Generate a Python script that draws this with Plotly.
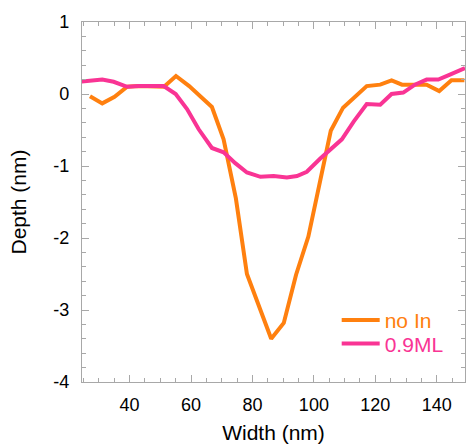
import plotly.graph_objects as go

# ---- data ----
no_in_x = [27.1, 31.1, 35.1, 39.2, 43.0, 47.0, 51.2, 55.1, 59.4, 63.0, 66.8, 70.6,
           74.6, 78.2, 82.2, 86.1, 90.2, 94.2, 98.2, 102.0, 105.5, 109.5, 113.3,
           117.2, 121.6, 125.3, 128.7, 132.9, 136.7, 140.8, 144.8, 149.0]
no_in_y = [-0.03, -0.13, -0.04, 0.10, 0.11, 0.11, 0.10, 0.25, 0.11, -0.03, -0.18, -0.63,
           -1.45, -2.50, -2.97, -3.40, -3.18, -2.51, -1.98, -1.18, -0.51, -0.19, -0.04,
           0.11, 0.13, 0.19, 0.13, 0.13, 0.13, 0.04, 0.19, 0.19]

ml_x = [23.5, 27.1, 31.1, 34.8, 39.2, 43.0, 47.0, 51.1, 55.0, 58.7, 62.5, 66.8, 70.6,
        74.4, 78.2, 82.6, 86.9, 91.2, 94.5, 97.7, 102.0, 105.3, 109.1, 113.0,
        117.2, 121.6, 125.3, 129.1, 132.9, 136.7, 140.5, 144.3, 149.2]
ml_y = [0.17, 0.19, 0.20, 0.17, 0.10, 0.11, 0.11, 0.11, 0.00, -0.21, -0.49, -0.75, -0.81,
        -0.96, -1.09, -1.15, -1.14, -1.16, -1.14, -1.08, -0.90, -0.77, -0.63, -0.38,
        -0.14, -0.15, 0.00, 0.02, 0.13, 0.20, 0.20, 0.27, 0.36]

x_ticks = [40, 60, 80, 100, 120, 140]
x_ticktext = ["40", "60", "80", "100", "120", "140"]
y_ticks = [1, 0, -1, -2, -3, -4]
y_ticktext = ["1", "0", "-1", "-2", "-3", "-4"]

ORANGE = "#FF800F"
PINK = "#F93494"
AXIS = "#A8A8A8"
FONT = "Liberation Sans, Arial, sans-serif"

fig = go.Figure()
fig.add_trace(go.Scatter(x=no_in_x, y=no_in_y, mode="lines",
                         line=dict(color=ORANGE, width=4),
                         name=f"<span style='color:{ORANGE}'>no In</span>",
                         legend="legend"))
fig.add_trace(go.Scatter(x=ml_x, y=ml_y, mode="lines",
                         line=dict(color=PINK, width=4),
                         name=f"<span style='color:{PINK}'>0.9ML</span>",
                         legend="legend2"))

axis_common = dict(
    showline=True, linecolor=AXIS, linewidth=1.2, mirror="allticks",
    ticks="inside", ticklen=7, tickcolor=AXIS, tickwidth=1.2,
    showgrid=False, zeroline=False, automargin=False,
    tickfont=dict(family=FONT, size=18, color="black"),
    title_font=dict(family=FONT, size=21, color="black"),
    tickmode="array",
)

fig.update_xaxes(**axis_common, range=[24.5, 149.2], tickvals=x_ticks, ticktext=x_ticktext,
                 minor=dict(dtick=5, tick0=0, ticks="inside", ticklen=4, tickcolor=AXIS, tickwidth=1.2),
                 title_text="Width (nm)", title_standoff=18, ticklabelstandoff=6)
fig.update_yaxes(**axis_common, range=[-4, 1], tickvals=y_ticks, ticktext=y_ticktext,
                 minor=dict(dtick=0.2, tick0=0, ticks="inside", ticklen=4, tickcolor=AXIS, tickwidth=1.2),
                 title_text="Depth (nm)", title_standoff=20, ticklabelstandoff=8)

legend_style = dict(xanchor="left", yanchor="top", bgcolor="rgba(0,0,0,0)",
                    font=dict(family=FONT, size=21), tracegroupgap=0, itemwidth=38)

fig.update_layout(
    width=466, height=444,
    margin=dict(l=82, r=1, t=22, b=62),
    plot_bgcolor="white", paper_bgcolor="white",
    font=dict(family=FONT, size=18, color="black"),
    legend=dict(x=0.665, y=0.228, **legend_style),
    legend2=dict(x=0.665, y=0.163, **legend_style),
    showlegend=True,
)

fig.write_html(
    "out.html",
    config={"displayModeBar": False},
    post_script="document.body.style.margin='0';document.body.style.overflow='hidden';",
)
